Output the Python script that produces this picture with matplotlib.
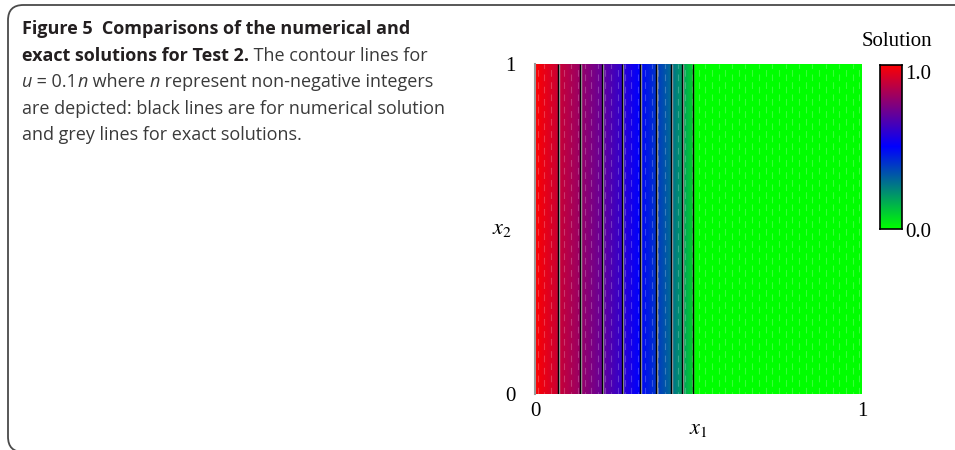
import numpy as np
import matplotlib
matplotlib.use("Agg")
import matplotlib.pyplot as plt
from matplotlib.colors import LinearSegmentedColormap
from matplotlib.patches import FancyBboxPatch

# Contour levels u = 0.1 n and the x1 position where each one crosses
levels = [1.0, 0.9, 0.8, 0.7, 0.6, 0.5, 0.4, 0.3, 0.2, 0.1, 0.0]
x_numerical = [0.0, 0.069, 0.138, 0.205, 0.265, 0.321, 0.369, 0.415, 0.449, 0.482, 0.487]
x_exact = [0.0, 0.072, 0.141, 0.208, 0.268, 0.324, 0.372, 0.419, 0.453, 0.485, 0.490]

x_ticks = [0, 1]
y_ticks = [0, 1]
cbar_ticks = [0.0, 1.0]
cbar_ticklabels = ["0.0", "1.0"]

plt.rcParams["mathtext.fontset"] = "stix"
serif = ["Liberation Serif", "DejaVu Serif"]
sans = ["Open Sans", "Noto Sans", "DejaVu Sans"]

fig = plt.figure(figsize=(9.55, 4.5), dpi=100)
W, H = 955, 450

# rounded frame around the figure panel
frame = FancyBboxPatch((8 / W, -2 / H), 1.2, (H - 5 + 2) / H,
                       boxstyle="round,pad=0,rounding_size=0.016",
                       transform=fig.transFigure, fill=False,
                       edgecolor="#4a4a4a", linewidth=1.3, mutation_aspect=W / H)
fig.add_artist(frame)

cmap = LinearSegmentedColormap.from_list(
    "sol", [(0.0, "#00ff00"), (0.5, "#0000ff"), (1.0, "#ff0000")])

ax = fig.add_axes([535 / W, 1 - 394 / H, 327 / W, 330 / H])

xs = np.linspace(0, 1, 1200)
ys = np.array([0.0, 1.0])
u_num = np.interp(xs, x_numerical, levels)
u_ex = np.interp(xs, x_exact, levels)
U_num = np.tile(u_num, (2, 1))
U_ex = np.tile(u_ex, (2, 1))

ax.pcolormesh(xs, ys, U_num, cmap=cmap, vmin=0, vmax=1, shading="gouraud")

# faint streak texture of the rendered mesh
cols = np.arange(0.008, 1.0, 0.0205)
for i, c in enumerate(cols):
    ax.vlines(c, 0, 1, colors="white", alpha=0.22, linewidth=0.8,
              linestyles=(4 * (i % 2), (6, 5)))

contour_levels = [l for l in levels if 0 < l < 1][::-1]
ax.contour(xs, ys, U_ex, levels=contour_levels, colors="#a8a8a8", linewidths=1.0)
ax.contour(xs, ys, U_num, levels=contour_levels, colors="black", linewidths=1.0)

ax.set_xlim(0, 1)
ax.set_ylim(0, 1)
for s in ["top", "right", "bottom"]:
    ax.spines[s].set_visible(False)
ax.spines["left"].set_color("#9a9a9a")
ax.spines["left"].set_linewidth(1.5)
ax.set_xticks(x_ticks)
ax.set_yticks(y_ticks)
ax.set_xticklabels([str(t) for t in x_ticks], fontfamily=serif, fontsize=15)
ax.set_yticklabels([str(t) for t in y_ticks], fontfamily=serif, fontsize=15)
ax.tick_params(axis="x", length=0, pad=6)
ax.tick_params(axis="y", length=0, pad=14)
ax.set_xlabel(r"$x_1$", fontsize=16, labelpad=-2)
ax.set_ylabel(r"$x_2$", fontsize=16, rotation=0, labelpad=2, va="center")

# colour bar
cax = fig.add_axes([880 / W, 1 - 229 / H, 22 / W, 164 / H])
grad = np.linspace(0, 1, 256).reshape(-1, 1)
cax.imshow(grad, cmap=cmap, aspect="auto", origin="lower", extent=[0, 1, 0, 1])
cax.set_xticks([])
cax.set_yticks([])
for s in cax.spines.values():
    s.set_linewidth(1.2)
cax.text(1.15, cbar_ticks[1], cbar_ticklabels[1], transform=cax.transAxes,
         fontfamily=serif, fontsize=15, ha="left", va="top")
cax.text(1.15, cbar_ticks[0] - 0.02, cbar_ticklabels[0], transform=cax.transAxes,
         fontfamily=serif, fontsize=15, ha="left", va="center")
fig.text(897 / W, 1 - 41 / H, "Solution", fontfamily=serif, fontsize=15,
         ha="center", va="center")

# caption
fig.canvas.draw()
renderer = fig.canvas.get_renderer()
fs = 13.0
x0 = 22 / W
baselines = [34, 61, 87, 114, 140]
lines = [
    [("Figure 5  Comparisons of the numerical and", "bold", "normal")],
    [("exact solutions for Test 2.", "bold", "normal"), (" The contour lines for", "normal", "normal")],
    [("u", "normal", "italic"), (" = 0.1", "normal", "normal"), ("n", "normal", "italic"),
     (" where ", "normal", "normal"), ("n", "normal", "italic"),
     (" represent non-negative integers", "normal", "normal")],
    [("are depicted: black lines are for numerical solution", "normal", "normal")],
    [("and grey lines for exact solutions.", "normal", "normal")],
]
for base, runs in zip(baselines, lines):
    xpos = x0
    for txt, weight, style in runs:
        color = "#231f20" if weight == "bold" else "#3a3a3a"
        t = fig.text(xpos, 1 - base / H, txt, fontfamily=sans, fontsize=fs,
                     fontweight=weight, fontstyle=style, color=color,
                     va="baseline", ha="left")
        bb = t.get_window_extent(renderer)
        xpos += bb.width / fig.bbox.width

fig.savefig("out.png", dpi=100)
